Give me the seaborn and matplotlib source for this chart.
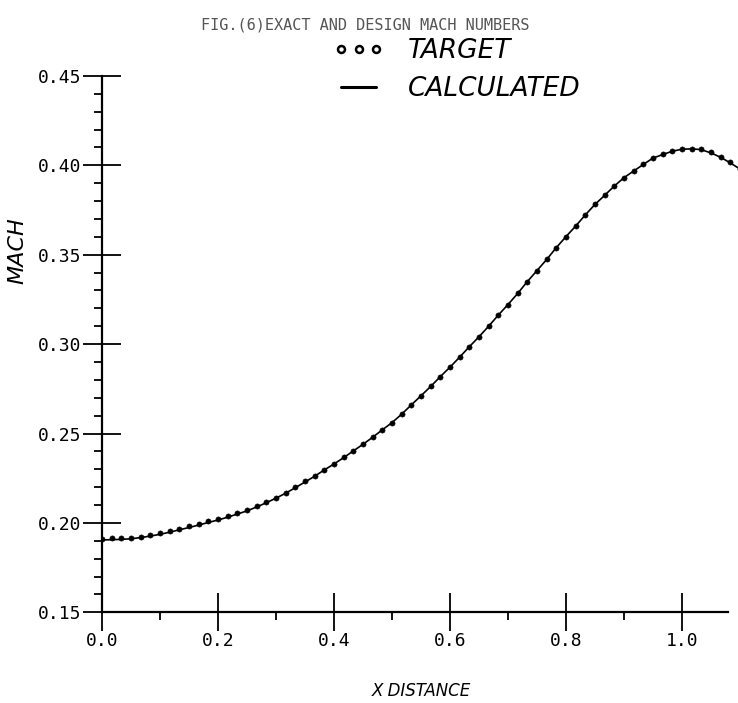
import numpy as np
import pandas as pd
import matplotlib
matplotlib.use("Agg")
import matplotlib.pyplot as plt
from matplotlib.lines import Line2D
from matplotlib.ticker import MultipleLocator
import seaborn as sns

# Axial stations (X DISTANCE)
x_dist = [0.000, 0.017, 0.033, 0.050, 0.067, 0.083, 0.100, 0.117, 0.133, 0.150,
          0.167, 0.183, 0.200, 0.217, 0.233, 0.250, 0.267, 0.283, 0.300, 0.317,
          0.333, 0.350, 0.367, 0.383, 0.400, 0.417, 0.433, 0.450, 0.467, 0.483,
          0.500, 0.517, 0.533, 0.550, 0.567, 0.583, 0.600, 0.617, 0.633, 0.650,
          0.667, 0.683, 0.700, 0.717, 0.733, 0.750, 0.767, 0.783, 0.800, 0.817,
          0.833, 0.850, 0.867, 0.883, 0.900, 0.917, 0.933, 0.950, 0.967, 0.983,
          1.000, 1.017, 1.033, 1.050, 1.067, 1.083, 1.100]

# Target (exact) Mach numbers
mach_target = [0.1912, 0.1913, 0.1914, 0.1917, 0.1924, 0.1932, 0.1942, 0.1954, 0.1967, 0.1980,
               0.1994, 0.2008, 0.2022, 0.2038, 0.2054, 0.2072, 0.2094, 0.2117, 0.2142, 0.2170,
               0.2200, 0.2232, 0.2264, 0.2298, 0.2332, 0.2367, 0.2403, 0.2441, 0.2481, 0.2521,
               0.2561, 0.2609, 0.2659, 0.2711, 0.2764, 0.2817, 0.2871, 0.2928, 0.2984, 0.3041,
               0.3101, 0.3161, 0.3221, 0.3284, 0.3348, 0.3411, 0.3474, 0.3538, 0.3601, 0.3661,
               0.3721, 0.3781, 0.3833, 0.3883, 0.3931, 0.3970, 0.4005, 0.4042, 0.4062, 0.4080,
               0.4092, 0.4094, 0.4090, 0.4072, 0.4047, 0.4017, 0.3982]

# Calculated (design) Mach numbers
mach_calc = [0.1905, 0.1906, 0.1908, 0.1911, 0.1918, 0.1926, 0.1936, 0.1948, 0.1961, 0.1974,
             0.1988, 0.2002, 0.2016, 0.2032, 0.2049, 0.2067, 0.2089, 0.2112, 0.2138, 0.2166,
             0.2196, 0.2228, 0.2261, 0.2295, 0.2329, 0.2365, 0.2401, 0.2439, 0.2479, 0.2519,
             0.2560, 0.2608, 0.2658, 0.2710, 0.2763, 0.2816, 0.2870, 0.2927, 0.2983, 0.3040,
             0.3100, 0.3160, 0.3220, 0.3283, 0.3347, 0.3410, 0.3473, 0.3537, 0.3600, 0.3660,
             0.3720, 0.3780, 0.3832, 0.3882, 0.3930, 0.3968, 0.4003, 0.4040, 0.4060, 0.4078,
             0.4090, 0.4092, 0.4088, 0.4070, 0.4045, 0.4015, 0.3980]

x_ticks = [0.0, 0.2, 0.4, 0.6, 0.8, 1.0]
x_tick_labels = ["0.0", "0.2", "0.4", "0.6", "0.8", "1.0"]
y_ticks = [0.15, 0.20, 0.25, 0.30, 0.35, 0.40, 0.45]
y_tick_labels = ["0.15", "0.20", "0.25", "0.30", "0.35", "0.40", "0.45"]

df_target = pd.DataFrame({"x": x_dist, "mach": mach_target})
df_calc = pd.DataFrame({"x": x_dist, "mach": mach_calc})

sns.set_style("white")
plt.rcParams["font.family"] = ["DejaVu Sans"]
plt.rcParams["text.color"] = "black"
plt.rcParams["axes.labelcolor"] = "black"
plt.rcParams["xtick.color"] = "black"
plt.rcParams["ytick.color"] = "black"

fig = plt.figure(figsize=(7.38, 7.03), dpi=100)
ax = fig.add_axes([0.138, 0.129, 0.862, 0.763])

sns.lineplot(data=df_calc, x="x", y="mach", ax=ax, color="black", linewidth=1.2,
             sort=False, estimator=None, legend=False)
sns.scatterplot(data=df_target, x="x", y="mach", ax=ax, color="black", s=14,
                marker="o", edgecolor="black", linewidth=0.4, legend=False, zorder=3)

ax.set_xlim(0.0, 1.097)
ax.set_ylim(0.15, 0.45)

for side in ["top", "right"]:
    ax.spines[side].set_visible(False)
ax.spines["left"].set_bounds(0.15, 0.45)
ax.spines["bottom"].set_bounds(0.0, 1.08)
for side in ["left", "bottom"]:
    ax.spines[side].set_linewidth(1.6)
    ax.spines[side].set_color("black")

ax.set_xticks(x_ticks)
ax.set_xticklabels(x_tick_labels, family="DejaVu Sans Mono", fontsize=13)
ax.set_yticks(y_ticks)
ax.set_yticklabels(y_tick_labels, family="DejaVu Sans Mono", fontsize=13)
ax.xaxis.set_minor_locator(MultipleLocator(0.1))
ax.yaxis.set_minor_locator(MultipleLocator(0.01))

ax.tick_params(axis="both", which="major", direction="inout", length=27, width=1.3,
               color="black", bottom=True, left=True)
ax.tick_params(axis="x", which="major", pad=1)
ax.tick_params(axis="y", which="major", pad=1)
ax.tick_params(axis="both", which="minor", direction="out", length=6, width=1.3,
               color="black", bottom=True, left=True)

ax.set_xlabel("X DISTANCE", fontsize=12, fontstyle="italic")
ax.xaxis.label.set_verticalalignment("center")
ax.xaxis.set_label_coords(0.503, -0.146)
ax.set_ylabel("MACH", fontsize=16, fontstyle="italic")
ax.yaxis.label.set_verticalalignment("center")
ax.yaxis.set_label_coords(-0.132, 0.675)

fig.text(0.495, 0.964, "FIG.(6)EXACT AND DESIGN MACH NUMBERS", ha="center", va="center",
         family="DejaVu Sans Mono", fontsize=11, color="#555555")

handles = [
    Line2D([], [], linestyle="none", marker="o", markersize=5, markerfacecolor="white",
           markeredgecolor="black", markeredgewidth=1.8),
    Line2D([], [], color="black", linewidth=2.2),
]
leg = fig.legend(handles, ["TARGET", "CALCULATED"], loc="upper left",
                 bbox_to_anchor=(0.452, 0.946), frameon=False, numpoints=3,
                 handlelength=1.9, handletextpad=0.9, labelspacing=0.45,
                 borderpad=0.0, borderaxespad=0.0,
                 prop={"size": 19, "style": "italic"})

fig.savefig("out.png", dpi=100, facecolor="white")
